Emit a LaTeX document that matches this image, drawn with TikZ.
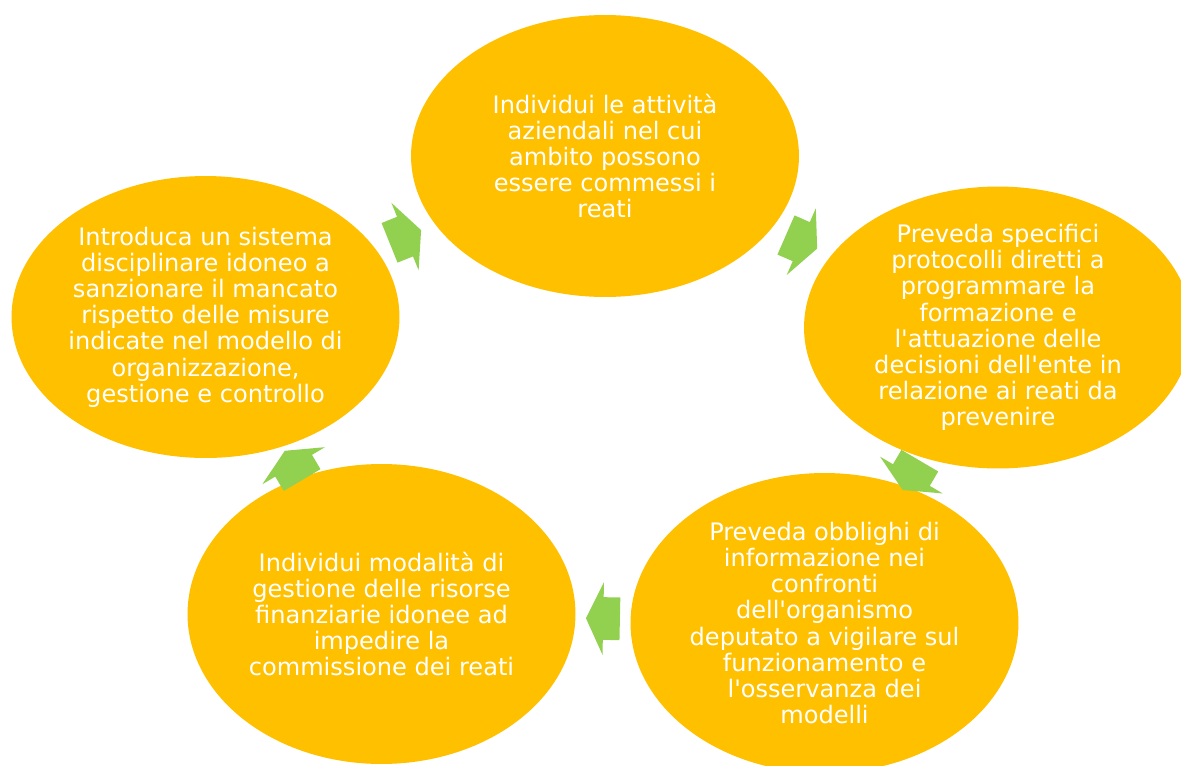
\documentclass[tikz,border=0pt]{standalone}
\usepackage{fontspec}
\newfontfamily\cyclefont{DejaVu Sans}
\usetikzlibrary{shapes.geometric, shapes.arrows}
\definecolor{gold}{HTML}{FFC000}
\definecolor{leaf}{HTML}{92D050}

\begin{document}
\begin{tikzpicture}[x=0.02cm, y=-0.02cm,
  main/.style = {ellipse, fill=gold, minimum width=7.76cm, minimum height=5.64cm, inner sep=-12pt,
    text=white, align=center, font=\cyclefont\fontsize{13.7}{14.9}\selectfont},
  arr/.style = {single arrow, fill=leaf, inner sep=0pt, text height=0.42cm, text depth=0.42cm,
    minimum height=0.68cm, single arrow head extend=0.3cm, single arrow tip angle=129,
    sloped, allow upside down, xshift=-0.1cm}]
  \useasboundingbox (0,0) rectangle (1181,765);
  \fill[white] (0,0) rectangle (1181,765);

  \node[main] (1) at (605,156) {Individui le attività\\aziendali nel cui\\ambito possono\\essere commessi i\\reati};
  \node[main] (2) at (998,327.5) {Preveda specifici\\protocolli diretti a\\programmare la\\formazione e\\l'attuazione delle\\decisioni dell'ente in\\relazione ai reati da\\prevenire};
  \node[main, minimum height=6cm] (3) at (824.5,623) {Preveda obblighi di\\informazione nei\\confronti\\dell'organismo\\deputato a vigilare sul\\funzionamento e\\l'osservanza dei\\modelli};
  \node[main, minimum height=6cm] (4) at (381.5,614) {Individui modalità di\\gestione delle risorse\\finanziarie idonee ad\\impedire la\\commissione dei reati};
  \node[main] (5) at (205.5,317) {Introduca un sistema\\disciplinare idoneo a\\sanzionare il mancato\\rispetto delle misure\\indicate nel modello di\\organizzazione,\\gestione e controllo};

  \path (1.center) -- node[arr] {} (2.center);
  \path (2.center) -- node[arr] {} (3.center);
  \path (3.center) -- node[arr] {} (4.center);
  \path (4.center) -- node[arr] {} (5.center);
  \path (5.center) -- node[arr] {} (1.center);
\end{tikzpicture}
\end{document}
